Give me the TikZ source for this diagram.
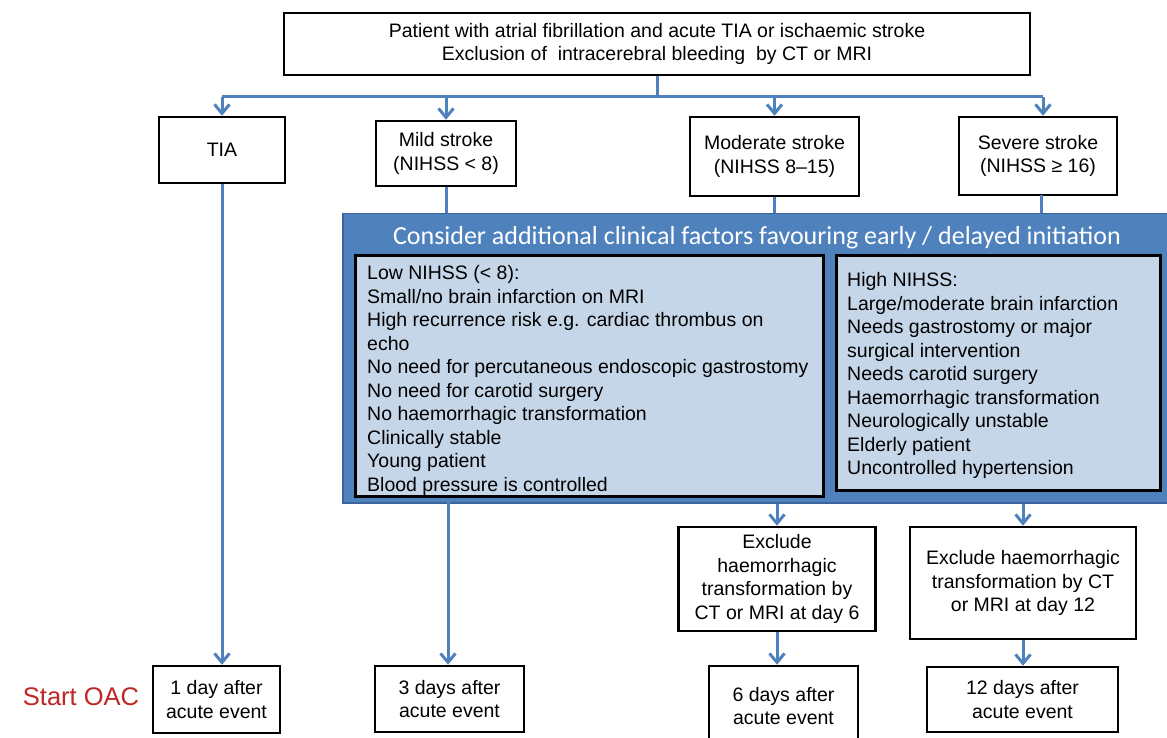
\documentclass[tikz,border=0pt]{standalone}
\usepackage{fontspec}
\setmainfont{Liberation Sans}
\newfontfamily\hdrfont{Carlito}
\usetikzlibrary{arrows.meta}
\definecolor{lineblue}{RGB}{79,129,189}
\definecolor{panelblue}{RGB}{79,129,189}
\definecolor{paneledge}{RGB}{58,100,155}
\definecolor{innerfill}{RGB}{198,214,233}
\definecolor{oacred}{RGB}{192,38,38}
\begin{document}
\begin{tikzpicture}[x=1pt,y=-1pt,
  box/.style={draw=black, line width=2.5pt, fill=white, align=center, inner sep=0pt,
    font=\fontsize{19.5}{23.5}\selectfont},
  panelbox/.style={draw=paneledge, line width=1.5pt, fill=panelblue, inner sep=0pt},
  innerbox/.style={draw=black, line width=2.5pt, fill=innerfill, inner sep=0pt},
  listtxt/.style={align=left, inner sep=0pt, font=\fontsize{19.5}{23.5}\selectfont},
  conn/.style={draw=lineblue, line width=3pt},
  arr/.style={conn, -{Straight Barb[length=9pt,width=15pt]}}
]
\useasboundingbox (0,0) rectangle (1167,738);
\clip (0,0) rectangle (1167,738);
\fill[white] (0,0) rectangle (1167,738);

% top box
\node[box, minimum width=746pt, minimum height=62pt] (top) at (657,44)
  {Patient with atrial fibrillation and acute TIA or ischaemic stroke\\Exclusion of\ \ intracerebral bleeding\ \ by CT or MRI};

% category boxes
\node[box, minimum width=126pt, minimum height=66pt] (tia) at (222,150) {TIA};
\node[box, minimum width=140pt, minimum height=65pt] (mild) at (446,153.5) {Mild stroke\\(NIHSS < 8)};
\node[box, minimum width=169pt, minimum height=79pt] (mod) at (774.5,156.5) {Moderate stroke\\(NIHSS 8--15)};
\node[box, minimum width=158pt, minimum height=78pt] (sev) at (1038,156) {Severe stroke\\(NIHSS \symbol{"2265} 16)};

% bus
\coordinate (busL) at (222,97);
\coordinate (busR) at (1043,97);
\coordinate (busS) at (1043,97);
\draw[conn] (top.south) -- (top.south |- busL);
\draw[conn] (busL) -- (busR);
\draw[arr] (busL) -- (tia.north);
\draw[arr] (mild.north |- busL) -- (mild.north);
\draw[arr] (mod.north |- busL) -- (mod.north);
\draw[arr] (busS) -- (busS |- sev.north);

% panel
\node[panelbox, minimum width=840pt, minimum height=289pt, anchor=north west] (panel) at (342,213) {};
\node[text=white, inner sep=0pt, font=\hdrfont\fontsize{26}{30}\selectfont] (hdr) at (757,238)
  {Consider additional clinical factors favouring early / delayed initiation};

\draw[conn] (mild.south) -- (mild.south |- panel.north);
\draw[conn] (mod.south) -- (mod.south |- panel.north);
\coordinate (sevdrop) at (1041,195);
\draw[conn] (sevdrop) -- (sevdrop |- panel.north);

\node[innerbox, minimum width=468pt, minimum height=241pt, anchor=north west] (low) at (354,254) {};
\node[listtxt, anchor=north west] (lowtxt) at (367,265.5)
  {\rule{0pt}{14pt}Low NIHSS (< 8):\\
   Small/no brain infarction on MRI\\
   High recurrence risk e.g. cardiac thrombus on\\
   echo\\
   No need for percutaneous endoscopic gastrostomy\\
   No need for carotid surgery\\
   No haemorrhagic transformation\\
   Clinically stable\\
   Young patient\\
   Blood pressure is controlled};

\node[innerbox, minimum width=324pt, minimum height=235pt, anchor=north west] (high) at (835,254) {};
\node[listtxt, anchor=north west] (hightxt) at (847,272.5)
  {\rule{0pt}{14pt}High NIHSS:\\
   Large/moderate brain infarction\\
   Needs gastrostomy or major\\
   surgical intervention\\
   Needs carotid surgery\\
   Haemorrhagic transformation\\
   Neurologically unstable\\
   Elderly patient\\
   Uncontrolled hypertension};

% exclude boxes
\node[box, minimum width=197pt, minimum height=104pt] (ex6) at (777,579)
  {Exclude\\haemorrhagic\\transformation by\\CT or MRI at day 6};
\node[box, minimum width=226pt, minimum height=112pt] (ex12) at (1023,583)
  {Exclude haemorrhagic\\transformation by CT\\or MRI at day 12};

% bottom boxes
\node[box, minimum width=127pt, minimum height=67pt] (d1) at (216.5,699.5) {1 day after\\acute event};
\node[box, minimum width=149pt, minimum height=66pt] (d3) at (449.5,699) {3 days after\\acute event};
\node[box, minimum width=149pt, minimum height=80pt] (d6) at (783.5,706) {6 days after\\acute event};
\node[box, minimum width=191pt, minimum height=65pt] (d12) at (1022.5,699.5) {12 days after\\acute event};

\node[text=oacred, inner sep=0pt, font=\fontsize{25.5}{30}\selectfont] (oac) at (81,697) {Start OAC};

% lower connectors
\draw[arr] (tia.south) -- (tia.south |- d1.north);
\coordinate (d3drop) at (448,502);
\draw[arr] (d3drop) -- (d3drop |- d3.north);
\draw[arr] (ex6.north |- panel.south) -- (ex6.north);
\draw[arr] (ex12.north |- panel.south) -- (ex12.north);
\draw[arr] (ex6.south) -- (ex6.south |- d6.north);
\draw[arr] (ex12.south) -- (ex12.south |- d12.north);
\end{tikzpicture}
\end{document}
